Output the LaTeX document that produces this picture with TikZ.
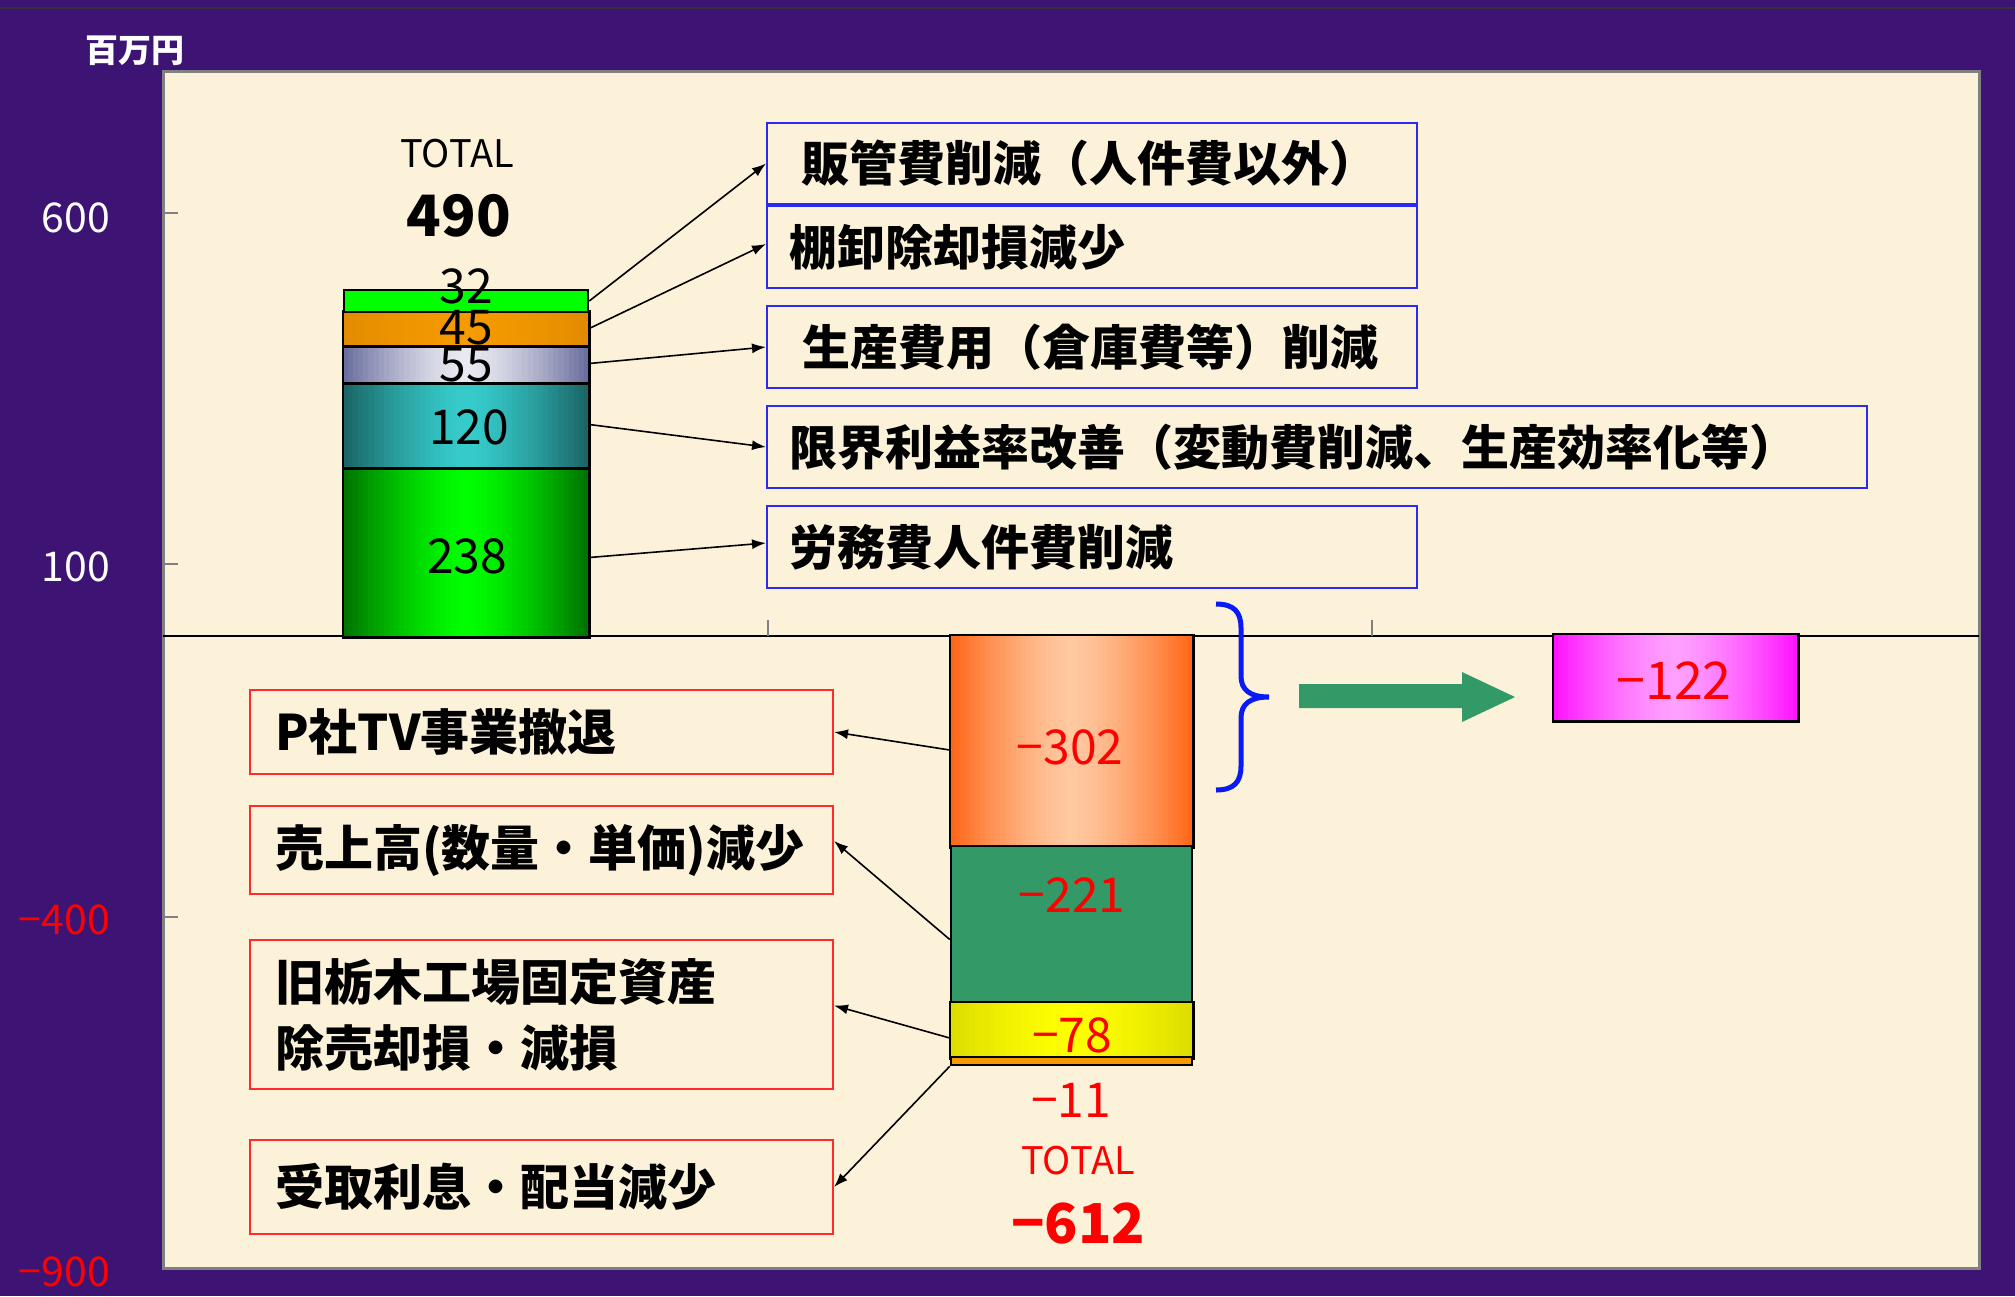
\documentclass[tikz,border=0pt]{standalone}
\usepackage{fontspec}
\setmainfont{Noto Sans CJK JP}
\usetikzlibrary{arrows.meta,calc}
\definecolor{bgpurple}{HTML}{3D1474}
\definecolor{cream}{HTML}{FCF2DA}
\definecolor{framegray}{HTML}{808080}
\definecolor{seagreen}{HTML}{339966}
\definecolor{boxblue}{HTML}{2A2AF0}
\definecolor{boxred}{HTML}{FF2A2A}
\definecolor{bracec}{HTML}{0A1AF5}
\definecolor{gdark}{HTML}{007000}
\definecolor{gbright}{HTML}{00FF00}
\definecolor{tealdark}{HTML}{1A6262}
\definecolor{tealbright}{HTML}{36CCCC}
\definecolor{lavdark}{HTML}{666B9C}
\definecolor{lavlight}{HTML}{EAEAF2}
\definecolor{orng}{HTML}{F59A00}
\definecolor{orngdark}{HTML}{E38B00}
\definecolor{peachdark}{HTML}{FF6414}
\definecolor{peach}{HTML}{FFC8A0}
\definecolor{ydark}{HTML}{DCDC00}
\definecolor{ybright}{HTML}{FFFF00}
\definecolor{magdark}{HTML}{FF10FF}
\definecolor{maglight}{HTML}{FFA0FF}
% horizontal gradient inside a named node: node, edge colour, centre colour
\newcommand\hgradfill[3]{%
  \foreach \gi in {0,...,47} {%
    \pgfmathsetmacro\gpct{100*(abs(2*(\gi+0.5)/48-1))^1.4}%
    \fill[#2!\gpct!#3] ($(#1.south west)!{\gi/48}!(#1.south east)$) rectangle ($(#1.north west)!{min(1,(\gi+1.3)/48)}!(#1.north east)$);
  }%
  \draw[black, line width=2.5pt] (#1.south west) rectangle (#1.north east);%
}
\begin{document}
\begin{tikzpicture}[x=1pt,y=-1pt,
  seg/.style={draw=black, line width=2.5pt, inner sep=0pt},
  posseg/.style={seg, minimum width=244pt},
  negseg/.style={seg, minimum width=241pt},
  num/.style={inner sep=0pt, font=\fontsize{48}{52}\selectfont},
  rnum/.style={num, text=red},
  ylab/.style={inner sep=0pt, anchor=east, font=\fontsize{41}{44}\selectfont},
  bbox/.style={draw=boxblue, line width=2pt, inner ysep=0pt, align=left,
     minimum height=81pt, font=\bfseries\fontsize{48}{56}\selectfont},
  rbox/.style={draw=boxred, line width=2pt, inner ysep=0pt, inner xsep=25pt,
     text width=533pt, align=left,
     font=\bfseries\fontsize{49}{66}\selectfont},
  conn/.style={draw=black, line width=1.6pt, -{Latex[length=14pt,width=10pt]}},
  tickm/.style={draw=framegray, line width=1.5pt}]
\useasboundingbox (0,0) rectangle (2015,1296);
% background
\fill[bgpurple] (0,0) rectangle (2015,1296);
\draw[black!80, line width=2pt] (0,8) -- (2015,8);
% plot area
\filldraw[fill=cream, draw=framegray, line width=3pt] (163,71) rectangle (1979,1268);
% axis
\draw[black, line width=1.5pt] (163,636) -- (1979,636);
\foreach \yy in {213,564,917,1268} \draw[tickm] (163,\yy) -- (178,\yy);
\foreach \xx in {768,1372} \draw[tickm] (\xx,620) -- (\xx,636);
% axis labels
\node[inner sep=0pt, text=white, font=\bfseries\fontsize{33}{36}\selectfont] (unit) at (135,51) {百万円};
\node[ylab, text=white] (y600) at (110,218) {600};
\node[ylab, text=white] (y100) at (110,567) {100};
\node[ylab, text=red] (y400) at (110,920) {−400};
\node[ylab, text=red] (y900) at (110,1272) {−900};
% positive bar
\node[posseg, minimum height=169pt] (s238) at (466,551.5) {};
\hgradfill{s238}{gdark}{gbright}
\node[posseg, minimum height=85pt] (s120) at (466,424.5) {};
\hgradfill{s120}{tealdark}{tealbright}
\node[posseg, minimum height=37pt] (s55) at (466,363.5) {};
\hgradfill{s55}{lavdark}{lavlight}
\node[posseg, minimum height=33pt] (s45) at (466,328.5) {};
\hgradfill{s45}{orngdark}{orng}
\node[posseg, minimum height=22pt, fill=gbright] (s32) at (466,301) {};
\node[num] (l32) at (466,286) {32};
\node[num] (l45) at (466,328) {45};
\node[num] (l55) at (466,365) {55};
\node[num] (l120) at (469,427) {120};
\node[num] (l238) at (467,556) {238};
\node[inner sep=0pt, font=\fontsize{38}{40}\selectfont] (ptotal) at (457,154) {TOTAL};
\node[inner sep=0pt, font=\bfseries\fontsize{57}{60}\selectfont] (p490) at (459,216) {490};
% blue boxes
\node[bbox, anchor=north west, inner xsep=34pt, text width=582pt] (b1) at (766,122) {販管費削減（人件費以外）};
\node[bbox, anchor=north west, inner xsep=22pt, text width=606pt, minimum height=82pt] (b2) at (766,205) {棚卸除却損減少};
\node[bbox, anchor=north west, inner xsep=35pt, text width=580pt, minimum height=82pt] (b3) at (766,305) {生産費用（倉庫費等）削減};
\node[bbox, anchor=north west, inner xsep=22pt, text width=1056pt, minimum height=82pt] (b4) at (766,405) {限界利益率改善（変動費削減、生産効率化等）};
\node[bbox, anchor=north west, inner xsep=22pt, text width=606pt, minimum height=82pt] (b5) at (766,505) {労務費人件費削減};
\draw[conn] (s32.east) -- (b1.west);
\draw[conn] (s45.east) -- ($(b2.west)+(0,-3)$);
\draw[conn] (s55.east) -- (b3.west);
\draw[conn] (s120.east) -- (b4.west);
\draw[conn] ($(s238.east)+(0,6)$) -- ($(b5.west)+(0,-4)$);
% negative bar
\node[negseg, minimum height=210pt] (n302) at (1071.5,741) {};
\hgradfill{n302}{peachdark}{peach}
\node[negseg, minimum height=157pt, fill=seagreen] (n221) at (1071.5,924.5) {};
\node[negseg, minimum height=54pt] (n78) at (1071.5,1030) {};
\hgradfill{n78}{ydark}{ybright}
\node[negseg, minimum height=8pt, fill=orng] (n11) at (1071.5,1061) {};
\node[rnum] (ln302) at (1070,747) {−302};
\node[rnum] (ln221) at (1072,895) {−221};
\node[rnum] (ln78) at (1072,1035) {−78};
\node[rnum] (ln11) at (1071,1100) {−11};
\node[inner sep=0pt, text=red, font=\fontsize{38}{40}\selectfont] (ntotal) at (1078,1161) {TOTAL};
\node[inner sep=0pt, text=red, font=\bfseries\fontsize{55}{58}\selectfont] (n612) at (1078,1224) {−612};
% red boxes
\node[rbox, anchor=north west, minimum height=84pt] (rA) at (249,689) {P社TV事業撤退};
\node[rbox, anchor=north west, minimum height=88pt] (rB) at (249,805) {売上高(数量・単価)減少};
\node[rbox, anchor=north west, minimum height=149pt] (rC) at (249,939) {旧栃木工場固定資産\\除売却損・減損};
\node[rbox, anchor=north west, minimum height=94pt] (rD) at (249,1139) {受取利息・配当減少};
\draw[conn] ($(n302.west)+(0,9)$) -- (rA.east);
\draw[conn] ($(n221.west)+(0,15)$) -- ($(rB.east)+(0,-9)$);
\draw[conn] ($(n78.west)+(0,8)$) -- ($(rC.east)+(0,-9)$);
\draw[conn] (n11.south west) -- (rD.east);
% brace
\draw[bracec, line width=5pt] (1216,604) .. controls (1234,604) and (1241,612) .. (1241,628) -- (1241,676) .. controls (1241,690) and (1250,697) .. (1269,697) .. controls (1250,697) and (1241,704) .. (1241,718) -- (1241,766) .. controls (1241,782) and (1234,790) .. (1216,790);
% green block arrow
\fill[seagreen] (1299,684) -- (1462,684) -- (1462,672) -- (1515,697) -- (1462,722) -- (1462,708) -- (1299,708) -- cycle;
% result box
\node[draw=black, line width=2.5pt, minimum width=243pt, minimum height=85pt, inner sep=0pt] (mag) at (1675.5,677.5) {};
\hgradfill{mag}{magdark}{maglight}
\node[inner sep=0pt, text=red, font=\fontsize{52}{56}\selectfont] (lmag) at (1674,681) {−122};
\end{tikzpicture}
\end{document}
